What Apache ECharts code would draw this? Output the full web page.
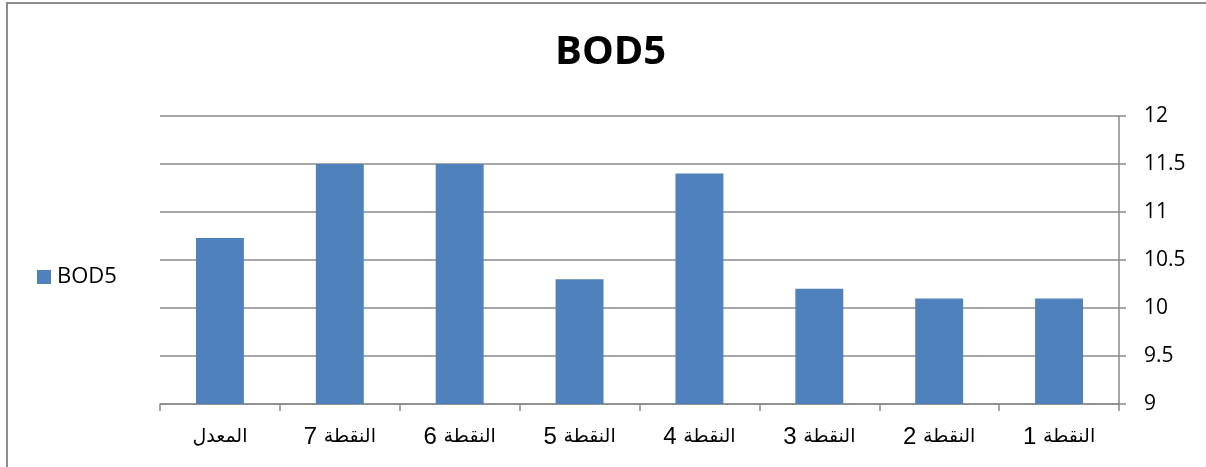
<!DOCTYPE html>
<html>
<head>
<meta charset="utf-8">
<script src="https://cdn.jsdelivr.net/npm/echarts@6/dist/echarts.min.js"></script>
<style>
  html, body { margin: 0; padding: 0; background: #fff; }
  #chart { width: 1206px; height: 467px; }
</style>
</head>
<body>
<div id="chart"></div>
<script>
// Sampling points along the watercourse plus their mean
const categories = ['النقطة 1', 'النقطة 2', 'النقطة 3', 'النقطة 4', 'النقطة 5', 'النقطة 6', 'النقطة 7', 'المعدل'];
const bod5Values = [10.1, 10.1, 10.2, 11.4, 10.3, 11.5, 11.5, 10.73];
const seriesName = 'BOD5';
const yMin = 9, yMax = 12, yStep = 0.5;

const chart = echarts.init(document.getElementById('chart'), null, { renderer: 'canvas' });

const axisGray = '#8a8a8a';
const latinFont = 'Open Sans, Liberation Sans, DejaVu Sans, sans-serif';
const arabicFont = 'Liberation Sans, DejaVu Sans, sans-serif';

// Arabic word and point number are styled separately; the number sits on the
// left, as it does when the label is laid out right-to-left.
function categoryLabel(value) {
  const m = value.match(/^(.*?)\s+(\d+)$/);
  return m ? '{n|' + m[2] + ' }{a|' + m[1] + '}' : '{m|' + value + '}';
}

chart.setOption({
  backgroundColor: '#fff',
  animation: false,
  graphic: [{
    type: 'rect',
    shape: { x: 7, y: 3, width: 1400, height: 700 },
    style: { fill: 'none', stroke: '#8c8c8c', lineWidth: 2 },
    silent: true
  }],
  title: {
    text: 'BOD5',
    left: 550,
    top: 28,
    textStyle: { fontFamily: latinFont, fontSize: 40, fontWeight: 'bold', color: '#000' }
  },
  legend: {
    data: [seriesName],
    left: 37,
    top: 266,
    padding: 0,
    icon: 'rect',
    itemWidth: 14,
    itemHeight: 14,
    textStyle: { fontFamily: latinFont, fontSize: 22, color: '#000', padding: [0, 0, 0, 1] }
  },
  grid: { left: 160, right: 87, top: 116, bottom: 63, containLabel: false },
  xAxis: {
    type: 'category',
    data: categories,
    inverse: true,
    axisLine: { show: true, lineStyle: { color: axisGray, width: 1.5 } },
    axisTick: { show: true, length: 7, alignWithLabel: false, lineStyle: { color: axisGray, width: 1.5 } },
    axisLabel: {
      margin: 21,
      color: '#000',
      formatter: categoryLabel,
      rich: {
        a: { fontFamily: arabicFont, fontSize: 19, color: '#000' },
        m: { fontFamily: arabicFont, fontSize: 19, color: '#000', padding: [2, 0, 0, 0] },
        n: { fontFamily: 'Liberation Sans, Arial, sans-serif', fontSize: 24, color: '#000' }
      }
    },
    splitLine: { show: false }
  },
  yAxis: {
    type: 'value',
    position: 'right',
    min: yMin,
    max: yMax,
    interval: yStep,
    axisLine: { show: true, lineStyle: { color: axisGray, width: 1.5 } },
    axisTick: { show: true, length: 7, lineStyle: { color: axisGray, width: 1.5 } },
    axisLabel: { margin: 25, fontFamily: latinFont, fontSize: 21, color: '#000' },
    splitLine: { show: true, lineStyle: { color: axisGray, width: 1.5 } }
  },
  series: [{
    name: seriesName,
    type: 'bar',
    data: bod5Values,
    barWidth: '40%',
    itemStyle: { color: '#4F81BD' }
  }]
});
</script>
</body>
</html>
